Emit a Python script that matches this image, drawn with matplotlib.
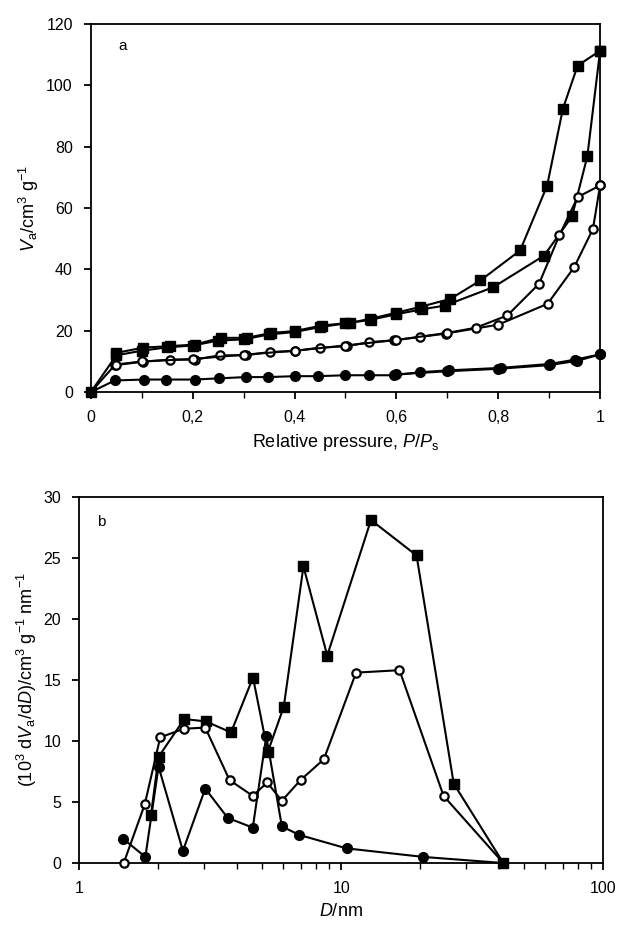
import numpy as np
import matplotlib.pyplot as plt
from matplotlib.ticker import MultipleLocator, FixedLocator, FuncFormatter, NullFormatter

plt.rcParams['font.family'] = ['Liberation Sans', 'DejaVu Sans']
plt.rcParams['mathtext.fontset'] = 'custom'
plt.rcParams['mathtext.rm'] = 'Liberation Sans'
plt.rcParams['mathtext.it'] = 'Liberation Sans:italic'

# --- panel a: isotherms (adsorption / desorption branches) ---
p_sq_ads = [0, 0.05, 0.10, 0.15, 0.20, 0.25, 0.30, 0.35, 0.40, 0.45, 0.50, 0.55,
            0.60, 0.65, 0.695, 0.79, 0.89, 0.945, 0.975, 1.0]
v_sq_ads = [0, 12.0, 13.5, 14.6, 15.2, 16.8, 17.2, 18.8, 19.6, 21.2, 22.4, 23.6,
            25.4, 27.0, 28.2, 34.2, 44.5, 57.3, 76.9, 111.3]
p_sq_des = [1.0, 0.956, 0.927, 0.896, 0.843, 0.765, 0.706, 0.647, 0.60, 0.549,
            0.509, 0.453, 0.40, 0.354, 0.306, 0.255, 0.204, 0.155, 0.103, 0.05]
v_sq_des = [111.3, 106.5, 92.4, 67.3, 46.2, 36.4, 30.4, 27.8, 25.9, 23.9,
            22.6, 21.7, 19.9, 19.3, 17.7, 17.7, 15.5, 15.0, 14.5, 12.8]

p_oc_ads = [0, 0.047, 0.102, 0.155, 0.204, 0.253, 0.304, 0.352, 0.40, 0.45, 0.503,
            0.547, 0.595, 0.647, 0.697, 0.80, 0.897, 0.949, 0.986, 1.0]
v_oc_ads = [0, 8.8, 9.9, 10.6, 10.6, 12.0, 12.0, 13.1, 13.4, 14.5, 15.0,
            16.3, 16.9, 18.0, 19.1, 22.0, 28.8, 40.7, 53.2, 67.4]
p_oc_des = [1.0, 0.956, 0.92, 0.88, 0.818, 0.756, 0.70, 0.60, 0.50, 0.40, 0.30,
            0.20, 0.10, 0.05]
v_oc_des = [67.4, 63.6, 51.1, 35.3, 25.0, 21.0, 19.3, 17.0, 15.2, 13.5, 12.2,
            10.8, 10.0, 9.0]

p_fc_ads = [0, 0.047, 0.104, 0.148, 0.204, 0.252, 0.304, 0.348, 0.40, 0.446, 0.50,
            0.547, 0.595, 0.647, 0.703, 0.805, 0.902, 0.951, 1.0]
v_fc_ads = [0, 3.8, 4.1, 4.1, 4.1, 4.5, 4.9, 4.9, 5.2, 5.2, 5.5,
            5.5, 5.5, 6.5, 7.1, 7.9, 9.2, 10.6, 12.3]
p_fc_des = [1.0, 0.955, 0.90, 0.80, 0.70, 0.60]
v_fc_des = [12.3, 10.2, 8.8, 7.6, 6.8, 5.8]

# --- panel b: pore size distributions ---
d_sq = [1.88, 2.01, 2.52, 3.05, 3.80, 4.61, 5.25, 6.04, 7.18, 8.85, 13.0, 19.4, 26.9, 41.6]
y_sq = [3.9, 8.7, 11.8, 11.6, 10.7, 15.2, 9.1, 12.8, 24.3, 17.0, 28.1, 25.2, 6.5, 0]
d_oc = [1.48, 1.78, 2.04, 2.51, 3.03, 3.75, 4.60, 5.22, 5.94, 7.0, 8.59, 11.4, 16.7, 24.6, 41.6]
y_oc = [0, 4.8, 10.3, 11.0, 11.1, 6.8, 5.5, 6.6, 5.1, 6.8, 8.5, 15.6, 15.8, 5.5, 0]
d_fc = [1.47, 1.79, 2.01, 2.49, 3.03, 3.69, 4.60, 5.18, 5.94, 6.93, 10.5, 20.6, 41.6]
y_fc = [2.0, 0.5, 7.9, 1.0, 6.1, 3.7, 2.9, 10.4, 3.0, 2.3, 1.2, 0.5, 0]

sq = dict(color='black', marker='s', ms=7, mfc='black', mec='black', lw=1.5, clip_on=False, zorder=3)
oc = dict(color='black', marker='o', ms=6, mfc='white', mec='black', mew=1.6, lw=1.5, clip_on=False, zorder=3)
fc = dict(color='black', marker='o', ms=7, mfc='black', mec='black', lw=1.5, clip_on=False, zorder=3)

fig = plt.figure(figsize=(6.18, 9.27), dpi=100)
ax1 = fig.add_axes([0.147, 0.577, 0.824, 0.397])
ax2 = fig.add_axes([0.128, 0.069, 0.848, 0.395])

ax1.plot(p_sq_ads, v_sq_ads, **sq)
ax1.plot(p_sq_des, v_sq_des, **sq)
ax1.plot(p_oc_ads, v_oc_ads, **oc)
ax1.plot(p_oc_des, v_oc_des, **oc)
ax1.plot(p_fc_ads, v_fc_ads, **fc)
ax1.plot(p_fc_des, v_fc_des, **fc)

ax1.set_xlim(0, 1)
ax1.set_ylim(0, 120)
ax1.xaxis.set_major_locator(MultipleLocator(0.2))
ax1.xaxis.set_minor_locator(MultipleLocator(0.1))
ax1.yaxis.set_major_locator(MultipleLocator(20))
ax1.xaxis.set_major_formatter(FuncFormatter(
    lambda v, pos: '0' if abs(v) < 1e-9 else ('1' if abs(v - 1) < 1e-9 else ('%.1f' % v).replace('.', ','))))
ax1.set_xlabel('Relative pressure, $P/P_\\mathrm{s}$', fontsize=13, labelpad=5)
ax1.set_ylabel('$V_\\mathrm{a}$/cm$^3$ g$^{-1}$', fontsize=13, labelpad=4)
ax1.text(0.055, 0.93, 'a', transform=ax1.transAxes, fontsize=11)

ax2.plot(d_sq, y_sq, **sq)
ax2.plot(d_oc, y_oc, **oc)
ax2.plot(d_fc, y_fc, **fc)
ax2.set_xscale('log')
ax2.set_xlim(1, 100)
ax2.set_ylim(0, 30)
ax2.xaxis.set_major_locator(FixedLocator([1, 10, 100]))
ax2.xaxis.set_major_formatter(FuncFormatter(lambda v, pos: '%d' % round(v)))
ax2.xaxis.set_minor_locator(FixedLocator([k * 10.0 ** e for e in (0, 1) for k in range(2, 10)]))
ax2.xaxis.set_minor_formatter(NullFormatter())
ax2.yaxis.set_major_locator(MultipleLocator(5))
ax2.set_xlabel('$D$/nm', fontsize=13, labelpad=5)
ax2.set_ylabel('(10$^3$ d$V_\\mathrm{a}$/d$D$)/cm$^3$ g$^{-1}$ nm$^{-1}$', fontsize=13, labelpad=3)
ax2.text(0.035, 0.92, 'b', transform=ax2.transAxes, fontsize=11)

for ax in (ax1, ax2):
    for s in ax.spines.values():
        s.set_linewidth(1.3)
    ax.tick_params(which='major', direction='out', length=5, width=1.3, labelsize=11.5, pad=8)
    ax.tick_params(which='minor', direction='out', length=4, width=1.0)

fig.savefig('out.png', dpi=100)
